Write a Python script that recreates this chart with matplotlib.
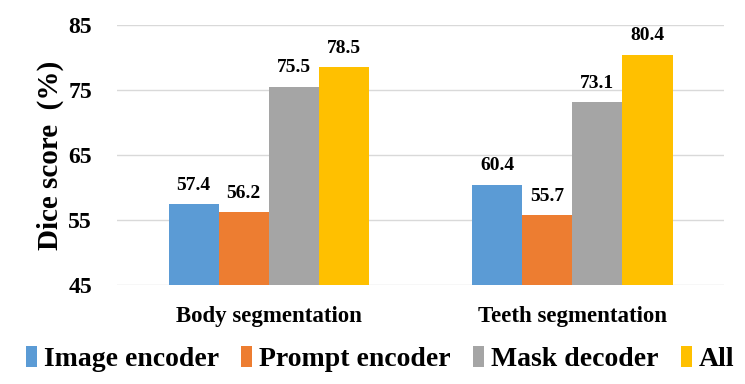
import matplotlib.pyplot as plt
import numpy as np

# Dados
categorias = ["Body segmentation", "Teeth segmentation"]
series = ["Image encoder", "Prompt encoder", "Mask decoder", "All"]
image_encoder = [57.4, 60.4]
prompt_encoder = [56.2, 55.7]
mask_decoder = [75.5, 73.1]
all_parts = [78.5, 80.4]
yticks = [45, 55, 65, 75, 85]

CORES = ["#5B9BD5", "#ED7D31", "#A5A5A5", "#FFC000"]

plt.rcParams.update({
    "font.family": "Liberation Serif",
    "font.weight": "bold",
})

fig = plt.figure(figsize=(7.45, 3.84), dpi=100)
ax = fig.add_axes([0.157, 0.258, 0.815, 0.677])

x = np.arange(len(categorias))
largura = 0.165
valores = [image_encoder, prompt_encoder, mask_decoder, all_parts]

for i, (nome, vals, cor) in enumerate(zip(series, valores, CORES)):
    pos = x + (i - 1.5) * largura
    bars = ax.bar(pos, vals, width=largura, color=cor, label=nome, zorder=3)
    for b, v in zip(bars, vals):
        ax.text(b.get_x() + b.get_width() / 2, v + 1.6, f"{v}",
                ha="center", va="bottom", fontsize=14, fontweight="bold")

ax.set_ylim(45, 85)
ax.set_yticks(yticks)
ax.set_xlim(-0.5, 1.5)
ax.set_xticks(x)
ax.set_xticklabels(categorias, fontsize=16.5)
ax.tick_params(axis="both", length=0)
ax.tick_params(axis="y", labelsize=17, pad=18)
ax.tick_params(axis="x", pad=15)
ax.grid(axis="y", color="#D9D9D9", linewidth=1, zorder=0)
for s in ax.spines.values():
    s.set_visible(False)

ax.set_ylabel("Dice score  (%)", fontsize=21, fontweight="bold", labelpad=3)

fig.legend(loc="lower center", bbox_to_anchor=(0.51, -0.035), ncol=4,
           frameon=False, fontsize=20, handlelength=0.4, handleheight=0.8,
           handletextpad=0.25, columnspacing=0.8)

fig.savefig("out.png", dpi=100)
